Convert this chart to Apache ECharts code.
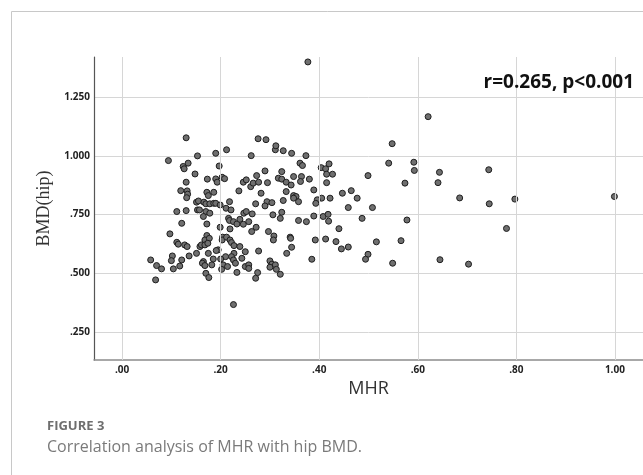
<!DOCTYPE html>
<html>
<head>
<meta charset="utf-8">
<script src="https://cdn.jsdelivr.net/npm/echarts@6/dist/echarts.min.js"></script>
<style>
  html, body { margin: 0; padding: 0; background: #fff; }
  #chart { width: 643px; height: 475px; }
</style>
</head>
<body>
<div id="chart"></div>
<script>
// MHR (x) and hip BMD (y), one pair per index
const mhrValues = [
  0.094, 0.153, 0.190, 0.212, 0.262, 0.311, 0.124, 0.126, 0.134, 0.148,
  0.197, 0.173, 0.190, 0.193, 0.203, 0.208, 0.246, 0.252, 0.261, 0.266,
  0.273, 0.277, 0.290, 0.295, 0.317, 0.130, 0.119, 0.132, 0.133, 0.131,
  0.172, 0.175, 0.186, 0.237, 0.282, 0.271, 0.294, 0.304, 0.290, 0.151,
  0.155, 0.166, 0.170, 0.178, 0.186, 0.190, 0.199, 0.211, 0.221, 0.218,
  0.130, 0.111, 0.153, 0.157, 0.170, 0.178, 0.165, 0.121, 0.172, 0.199,
  0.219, 0.216, 0.218, 0.226, 0.233, 0.239, 0.246, 0.247, 0.252, 0.257,
  0.264, 0.272, 0.263, 0.297, 0.308, 0.307, 0.306, 0.097, 0.111, 0.114,
  0.127, 0.132, 0.172, 0.168, 0.177, 0.158, 0.161, 0.168, 0.174, 0.204,
  0.203, 0.212, 0.219, 0.222, 0.227, 0.239, 0.250, 0.277, 0.195, 0.191,
  0.227, 0.222, 0.210, 0.200, 0.185, 0.175, 0.151, 0.136, 0.102, 0.100,
  0.121, 0.117, 0.104, 0.058, 0.070, 0.080, 0.165, 0.163, 0.168, 0.182,
  0.205, 0.214, 0.226, 0.230, 0.243, 0.250, 0.257, 0.257, 0.275, 0.271,
  0.300, 0.304, 0.300, 0.311, 0.313, 0.202, 0.233, 0.170, 0.176, 0.068,
  0.226,
  0.344, 0.373, 0.361, 0.366, 0.324, 0.348, 0.364, 0.362, 0.380, 0.324,
  0.333, 0.343, 0.333, 0.348, 0.353, 0.348, 0.358, 0.327, 0.324, 0.321,
  0.341, 0.342, 0.344, 0.334, 0.321, 0.404, 0.413, 0.420, 0.415, 0.427,
  0.415, 0.389, 0.405, 0.396, 0.393, 0.422, 0.447, 0.465, 0.477, 0.459,
  0.508, 0.499, 0.541, 0.592, 0.593, 0.574, 0.644, 0.641, 0.685, 0.358,
  0.374, 0.389, 0.408, 0.418, 0.419, 0.487, 0.578, 0.440, 0.392, 0.413,
  0.434, 0.445, 0.459, 0.516, 0.566, 0.385, 0.499, 0.494, 0.549, 0.645,
  0.703,
  0.744, 0.745, 0.797, 0.999, 0.780,
  0.377, 0.621, 0.548, 0.130, 0.276, 0.292, 0.312, 0.327
];
const bmdValues = [
  0.980, 1.000, 1.011, 1.026, 1.001, 1.026, 0.955, 0.945, 0.969, 0.923,
  0.957, 0.901, 0.902, 0.888, 0.909, 0.903, 0.888, 0.898, 0.869, 0.884,
  0.916, 0.888, 0.936, 0.886, 0.905, 0.888, 0.852, 0.851, 0.837, 0.822,
  0.845, 0.831, 0.845, 0.851, 0.841, 0.796, 0.805, 0.801, 0.787, 0.803,
  0.808, 0.803, 0.796, 0.796, 0.798, 0.798, 0.791, 0.777, 0.770, 0.805,
  0.767, 0.763, 0.770, 0.770, 0.763, 0.756, 0.742, 0.713, 0.710, 0.696,
  0.689, 0.734, 0.725, 0.720, 0.710, 0.730, 0.709, 0.756, 0.763, 0.720,
  0.753, 0.696, 0.678, 0.678, 0.659, 0.642, 0.749, 0.668, 0.632, 0.624,
  0.621, 0.614, 0.661, 0.642, 0.649, 0.614, 0.621, 0.621, 0.628, 0.654,
  0.642, 0.654, 0.642, 0.631, 0.618, 0.614, 0.592, 0.595, 0.600, 0.597,
  0.585, 0.571, 0.571, 0.561, 0.561, 0.585, 0.585, 0.574, 0.574, 0.554,
  0.557, 0.531, 0.519, 0.557, 0.533, 0.519, 0.550, 0.543, 0.533, 0.536,
  0.536, 0.529, 0.557, 0.543, 0.564, 0.529, 0.536, 0.521, 0.503, 0.479,
  0.553, 0.539, 0.526, 0.536, 0.517, 0.517, 0.504, 0.500, 0.482, 0.472,
  0.367,
  1.011, 1.001, 0.969, 0.959, 0.933, 0.912, 0.912, 0.891, 0.901, 0.901,
  0.888, 0.876, 0.848, 0.831, 0.827, 0.820, 0.805, 0.810, 0.760, 0.734,
  0.654, 0.649, 0.611, 0.585, 0.496, 0.950, 0.945, 0.966, 0.922, 0.922,
  0.886, 0.855, 0.820, 0.813, 0.798, 0.820, 0.841, 0.852, 0.820, 0.780,
  0.780, 0.916, 0.969, 0.973, 0.938, 0.884, 0.930, 0.886, 0.821, 0.725,
  0.720, 0.744, 0.742, 0.751, 0.722, 0.734, 0.727, 0.690, 0.642, 0.646,
  0.635, 0.604, 0.612, 0.634, 0.639, 0.560, 0.581, 0.560, 0.543, 0.558,
  0.539,
  0.941, 0.796, 0.816, 0.827, 0.691,
  1.400, 1.167, 1.052, 1.077, 1.073, 1.069, 1.043, 1.022
];

const xTicks = [0, 0.2, 0.4, 0.6, 0.8, 1.0];
const yTicks = [0.25, 0.5, 0.75, 1.0, 1.25];

const points = mhrValues.map((x, i) => [x, bmdValues[i]]);

// SPSS style labels: drop the leading zero
const spssLabel = (digits) => (v) => v.toFixed(digits).replace(/^0/, '');

const gridColor = '#d6d6d6';

const chart = echarts.init(document.getElementById('chart'), null, { renderer: 'canvas' });

const option = {
  animation: false,
  backgroundColor: '#fff',
  title: [
    {
      text: 'r=0.265, p<0.001',
      right: 4,
      top: 68,
      textStyle: { fontFamily: 'Open Sans', fontWeight: 'bold', fontSize: 19, color: '#111' }
    },
    {
      text: 'FIGURE 3',
      left: 42,
      top: 415,
      textStyle: { fontFamily: 'Open Sans', fontWeight: 'bold', fontSize: 13, color: '#6e6e6e' }
    },
    {
      text: 'Correlation analysis of MHR with hip BMD.',
      left: 42,
      top: 434,
      textStyle: { fontFamily: 'Open Sans', fontWeight: 'normal', fontSize: 16, color: '#7a7a7a' }
    }
  ],
  graphic: [
    // thin frame round the figure, only its left and top edges are in view
    { type: 'line', shape: { x1: 11.5, y1: 11.5, x2: 11.5, y2: 475 }, style: { stroke: '#c8c8c8', lineWidth: 1 } },
    { type: 'line', shape: { x1: 11.5, y1: 11.5, x2: 643, y2: 11.5 }, style: { stroke: '#c8c8c8', lineWidth: 1 } }
  ],
  grid: { left: 94, right: 0, top: 57, bottom: 115, containLabel: false },
  xAxis: {
    type: 'value',
    min: -0.057,
    max: 1.057,
    name: 'MHR',
    nameLocation: 'middle',
    nameGap: 13,
    nameTextStyle: { fontFamily: 'Open Sans', fontSize: 18, color: '#333' },
    axisLine: { show: true, onZero: false, lineStyle: { color: '#8c8c8c', width: 1.5 } },
    axisTick: { show: false, customValues: xTicks },
    axisLabel: {
      customValues: xTicks,
      formatter: spssLabel(2),
      margin: 5,
      fontFamily: 'Open Sans', fontWeight: 'bold', fontSize: 10, color: '#222'
    },
    splitLine: { show: false }
  },
  yAxis: {
    type: 'value',
    min: 0.131,
    max: 1.421,
    name: 'BMD(hip)',
    nameLocation: 'middle',
    nameGap: 31,
    nameTextStyle: { fontFamily: 'Liberation Serif', fontSize: 18, color: '#333' },
    axisLine: { show: true, onZero: false, lineStyle: { color: '#555', width: 1.2 } },
    axisTick: { show: false, customValues: yTicks },
    axisLabel: {
      customValues: yTicks,
      formatter: spssLabel(3),
      margin: 4,
      fontFamily: 'Open Sans', fontWeight: 'bold', fontSize: 10, color: '#222'
    },
    splitLine: { show: true, lineStyle: { color: gridColor, width: 1 } }
  },
  series: [
    {
      // vertical reference lines at the MHR ticks
      type: 'scatter',
      data: [],
      z: 1,
      silent: true,
      markLine: {
        silent: true,
        symbol: 'none',
        label: { show: false },
        lineStyle: { color: gridColor, type: 'solid', width: 1 },
        data: xTicks.map((v) => ({ xAxis: v }))
      }
    },
    {
      type: 'scatter',
      data: points,
      z: 3,
      symbol: 'circle',
      symbolSize: 6,
      itemStyle: { color: '#6f6f6f', borderColor: '#1e1e1e', borderWidth: 1, opacity: 1 }
    }
  ]
};

chart.setOption(option);
</script>
</body>
</html>
